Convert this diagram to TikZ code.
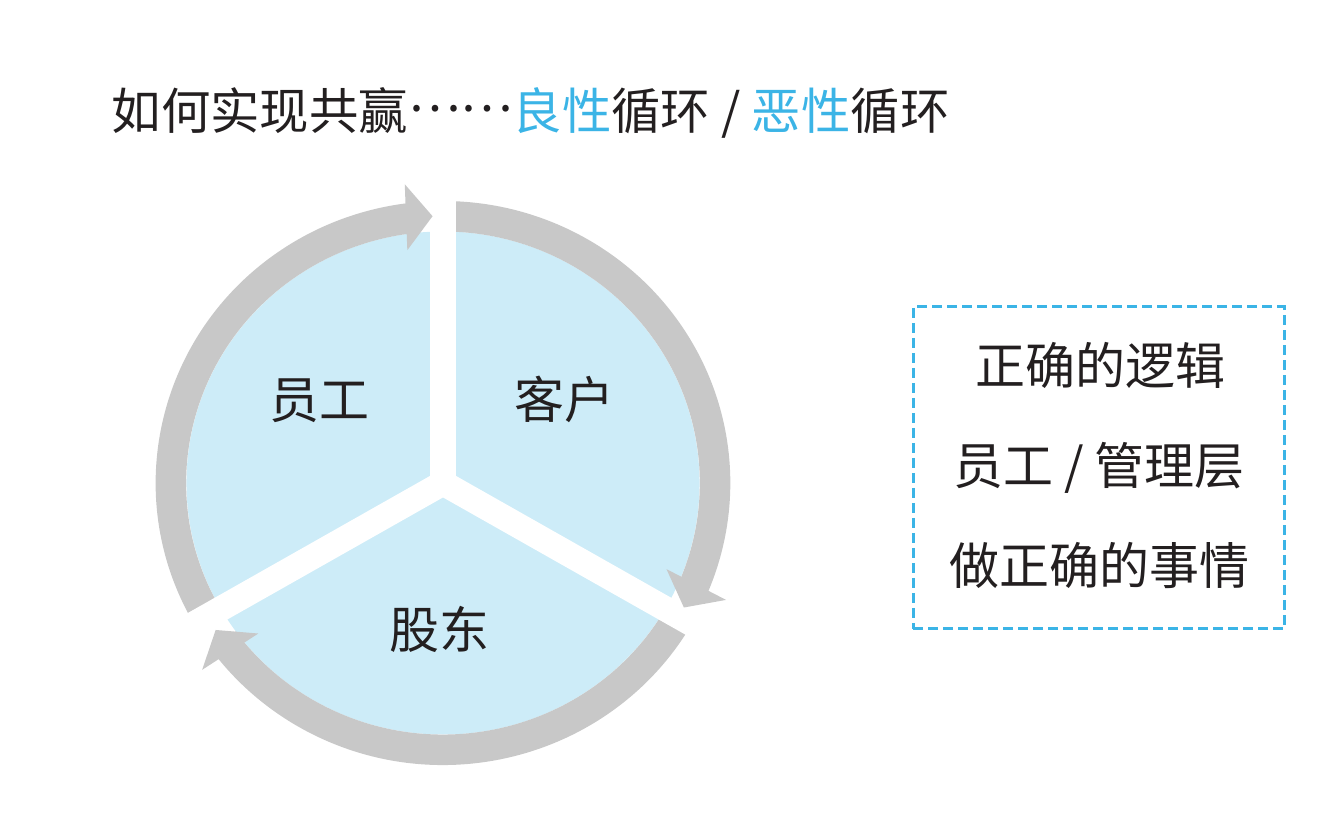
\documentclass[tikz,border=0pt]{standalone}
\usepackage{fontspec}
\setmainfont{Noto Sans CJK SC}
\definecolor{discblue}{HTML}{CDECF8}
\definecolor{ringgray}{HTML}{C8C8C8}
\definecolor{accent}{HTML}{3BB4E6}
\definecolor{inkc}{HTML}{231F20}
\tikzset{
  lbl/.style={inner sep=0pt, anchor=base, text=inkc, font=\fontsize{50}{60}\selectfont},
  shaft/.style={draw=ringgray, line width=30.5pt},
  head/.style={fill=ringgray},
  gap/.style={fill=white},
  dbox/.style={draw=accent, line width=3pt, dash pattern=on 10pt off 5pt, inner sep=0pt, minimum width=371pt, minimum height=322pt}
}
\begin{document}
\begin{tikzpicture}[x=1pt,y=1pt]
\useasboundingbox (-443,-335) rectangle (887,483);
\begin{scope}[xscale=1.02]
  \fill[discblue] (0,0) circle [radius=251.5];
  % shafts
  \draw[shaft] (212:266.75) arc [start angle=212, end angle=96.2, radius=266.75];
  \draw[shaft] (88:266.75) arc [start angle=88, end angle=-23.8, radius=266.75];
  \draw[shaft] (-28:266.75) arc [start angle=-28, end angle=-143.8, radius=266.75];
  % separators
  \foreach \a in {90,210,330} {
    \fill[gap, rotate=\a] (-2,-12.5) rectangle (300,12.5);
  }
  % heads
  \fill[head, rotate=2.2] (0,267) -- (-26,300) -- (-26,234) -- cycle;
  \fill[head, rotate=-117.8] (0,267) -- (-26,300) -- (-26,234) -- cycle;
  \fill[head, rotate=-236.6] (0,267) -- (-26,300) -- (-26,234) -- cycle;
\end{scope}
\node[lbl, anchor=base west, font=\fontsize{49.4}{60}\selectfont] (title) at (-331.5,353.5) {如何实现共赢\raisebox{0.36em}{……}{\color{accent}良性}循环 / {\color{accent}恶性}循环};
\node[lbl] (emp) at (-123,64.5) {员工};
\node[lbl] (cust) at (121,64.5) {客户};
\node[lbl] (share) at (-3,-165.5) {股东};
\node[dbox] (box) at (655.5,15) {};
\node[lbl] (l1) at (657,98.5) {正确的逻辑};
\node[lbl] (l2) at (656,-1.5) {员工 / 管理层};
\node[lbl] (l3) at (656.5,-101.5) {做正确的事情};
\end{tikzpicture}
\end{document}
